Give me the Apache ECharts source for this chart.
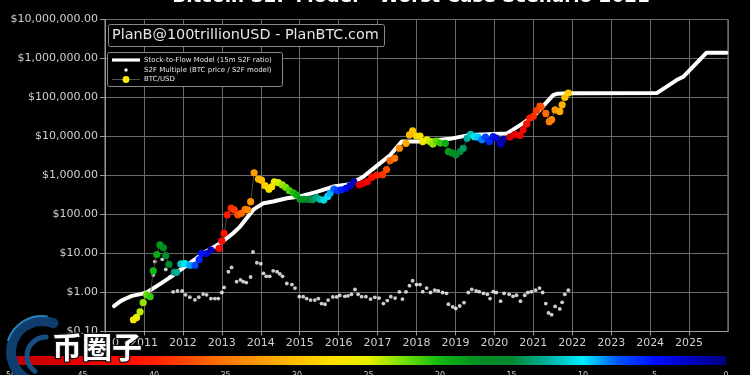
<!DOCTYPE html>
<html><head><meta charset="utf-8">
<script src="https://cdn.jsdelivr.net/npm/echarts@6/dist/echarts.min.js"></script>
<style>html,body{margin:0;padding:0;background:#000;}#c{width:750px;height:375px;}</style>
</head><body><div id="c"></div>
<script>
const titleText = 'Bitcoin S2F Model - Worst Case Scenario 2021';
const creditText = 'PlanB@100trillionUSD - PlanBTC.com';
const legendLabels = ['Stock-to-Flow Model (15m S2F ratio)', 'S2F Multiple (BTC price / S2F model)', 'BTC/USD'];
const watermarkText = '币圈子';

// S2F model line
const modelYears = [2010.23,2010.40,2010.51,2010.69,2010.94,2011.07,2011.37,2011.71,2012.05,2012.31,2012.57,2012.82,2013.04,2013.29,2013.47,2013.81,2014.07,2014.32,2014.67,2015.00,2015.44,2015.86,2016.29,2016.63,2017.06,2017.32,2017.62,2018.17,2018.86,2019.37,2020.32,2020.48,2020.74,2021.08,2021.51,2021.62,2021.94,2024.17,2024.68,2024.85,2025.45,2025.96];
const modelValues = [0.45,0.6,0.68,0.82,0.92,1.0,1.55,2.6,4.6,7.1,11,15,21,33,49,133,195,215,260,290,380,520,600,930,2040,3300,7400,7400,8700,11000,12000,15000,22000,39000,115000,125000,128000,130000,280000,340000,1410000,1410000];

// S2F multiple dots
const multipleYears = [2011.24,2011.28,2011.47,2011.56,2011.67,2011.75,2011.86,2011.98,2012.07,2012.18,2012.31,2012.41,2012.52,2012.61,2012.72,2012.82,2012.91,2013.00,2013.06,2013.17,2013.25,2013.38,2013.48,2013.55,2013.63,2013.74,2013.80,2013.90,2014.00,2014.07,2014.14,2014.23,2014.32,2014.42,2014.49,2014.56,2014.67,2014.80,2014.88,2014.99,2015.09,2015.18,2015.28,2015.39,2015.48,2015.56,2015.65,2015.73,2015.85,2015.95,2016.03,2016.16,2016.24,2016.33,2016.42,2016.50,2016.59,2016.70,2016.82,2016.93,2017.04,2017.15,2017.25,2017.34,2017.45,2017.56,2017.64,2017.73,2017.82,2017.90,2018.00,2018.09,2018.16,2018.26,2018.36,2018.47,2018.56,2018.67,2018.77,2018.82,2018.93,2019.01,2019.11,2019.22,2019.33,2019.42,2019.53,2019.61,2019.72,2019.82,2019.89,2019.97,2020.05,2020.16,2020.25,2020.38,2020.48,2020.57,2020.67,2020.78,2020.86,2020.95,2021.06,2021.16,2021.24,2021.32,2021.39,2021.47,2021.56,2021.68,2021.74,2021.81,2021.90];
const multipleValues = [2.8,6.2,7.1,3.9,2.5,1.04,1.1,1.1,0.87,0.76,0.65,0.76,0.91,0.87,0.7,0.7,0.7,1.0,1.35,3.4,4.4,1.9,2.1,1.9,1.8,2.5,11,5.8,5.5,3.1,2.6,2.6,3.6,3.4,3.0,2.6,1.7,1.6,1.3,0.78,0.78,0.7,0.64,0.64,0.7,0.52,0.5,0.64,0.77,0.77,0.84,0.8,0.82,0.9,1.2,0.9,0.78,0.78,0.68,0.75,0.72,0.52,0.62,0.78,0.72,1.04,0.68,1.04,1.5,2.0,1.6,1.6,1.05,1.3,1.0,1.15,1.1,1.0,0.95,0.5,0.43,0.39,0.45,0.55,1.0,1.2,1.1,1.05,0.95,0.9,0.7,1.05,1.0,0.6,0.95,0.9,0.8,0.85,0.6,0.85,1.0,1.05,1.15,1.3,1.0,0.52,0.3,0.27,0.44,0.38,0.56,0.9,1.15];

// BTC/USD price points with months-until-next-halving (colour value)
const btcYears = [2010.73,2010.81,2010.90,2010.98,2011.07,2011.16,2011.24,2011.33,2011.41,2011.50,2011.56,2011.64,2011.78,2011.84,2011.95,2012.05,2012.18,2012.31,2012.42,2012.48,2012.61,2012.72,2012.93,2013.00,2013.06,2013.14,2013.24,2013.32,2013.41,2013.50,2013.60,2013.67,2013.74,2013.83,2013.94,2014.02,2014.11,2014.21,2014.28,2014.35,2014.45,2014.55,2014.64,2014.73,2014.84,2014.92,2015.01,2015.11,2015.22,2015.33,2015.42,2015.52,2015.62,2015.72,2015.78,2015.88,2015.97,2016.07,2016.19,2016.29,2016.39,2016.53,2016.63,2016.74,2016.85,2016.98,2017.13,2017.23,2017.32,2017.44,2017.56,2017.73,2017.82,2017.90,2018.00,2018.09,2018.16,2018.27,2018.35,2018.42,2018.51,2018.61,2018.74,2018.82,2018.91,2019.01,2019.12,2019.20,2019.30,2019.39,2019.49,2019.58,2019.68,2019.77,2019.87,2019.97,2020.05,2020.16,2020.24,2020.40,2020.53,2020.66,2020.74,2020.83,2020.91,2021.00,2021.08,2021.17,2021.20,2021.32,2021.41,2021.47,2021.56,2021.68,2021.74,2021.81,2021.90];
const btcPrices = [0.20,0.23,0.32,0.55,0.87,0.78,3.6,9.4,16.6,14,8.8,5.3,3.3,3.3,5.4,5.5,5.0,5.0,7.0,10,10,12.3,13.5,21,33,98,145,131,98,107,135,130,213,1170,810,760,550,445,515,690,660,575,500,410,360,315,245,245,245,240,275,245,235,290,350,445,415,430,470,540,690,575,630,700,890,1020,1050,1420,2400,2750,5000,6700,11000,14000,10300,10300,7400,8200,7400,6400,7600,6800,6700,4100,3800,3400,4100,5000,9000,11400,9900,9600,8300,9600,7400,9900,9100,6400,8500,9600,11300,10700,14800,21000,29500,33000,46000,60000,57000,39000,24000,27000,48000,44000,65000,100000,130000];
const btcMonths = [26.2,25.2,24.1,23.2,22.1,21.0,20.0,19.0,18.0,16.9,16.2,15.2,13.6,12.8,11.5,10.3,8.8,7.2,5.9,5.2,3.6,2.3,43.2,42.4,41.6,40.6,39.5,38.5,37.4,36.1,34.9,34.1,33.2,32.2,30.8,29.9,28.8,27.6,26.8,25.9,24.7,23.5,22.7,21.6,20.3,19.3,18.2,17.0,15.7,14.4,13.3,12.1,10.9,9.7,9.0,7.8,6.7,5.5,4.1,2.9,1.7,46.0,44.8,43.4,42.1,40.6,38.8,37.6,36.5,35.0,33.6,31.6,30.5,29.5,28.3,27.2,26.4,25.1,24.1,23.3,22.2,21.0,19.4,18.5,17.4,16.2,14.9,13.9,12.7,11.6,10.4,9.4,8.2,7.1,5.9,4.7,3.7,2.4,1.4,46.8,45.2,43.7,42.7,41.6,40.7,39.6,38.6,37.6,37.2,35.8,34.7,34.0,32.9,31.4,30.7,29.9,28.8];

// colour scale (value 0 -> 50, step 2.5)
const cmapColors = ['#000080','#0000c0','#0010ff','#0050ff','#00eeff','#00b0a0','#008a30','#008f20','#10b810','#70e000','#e8f000','#ffe000','#ffc000','#ff9c00','#ff7800','#ff4c00','#ff2000','#ff0800','#e80000','#d00000','#c00000'];
const colorbarTicks = [50,45,40,35,30,25,20,15,10,5,0];

const chart = echarts.init(document.getElementById('c'));
const FONT = 'DejaVu Sans';
const grid = {left:105, right:22, top:19.5, bottom:43.5};
const cbLeft = 11, cbRight = 726;

const graphics = [];
graphics.push({type:'text', z:100, style:{text:titleText, x:411, y:-2.5, fill:'#ffffff', fontSize:18.4, fontWeight:'bold', fontFamily:FONT, align:'center', textAlign:'center', verticalAlign:'middle', textVerticalAlign:'middle'}});
graphics.push({type:'rect', z:100, shape:{x:108.5, y:24.5, width:276, height:22, r:2}, style:{fill:'#000', stroke:'#8a8a8a', lineWidth:1}});
graphics.push({type:'text', z:101, style:{text:creditText, x:112, y:35.5, fill:'#e6e6e6', fontSize:14.4, fontFamily:FONT, verticalAlign:'middle', textVerticalAlign:'middle'}});
graphics.push({type:'rect', z:100, shape:{x:107.5, y:52.5, width:175, height:34, r:2}, style:{fill:'#000', stroke:'#8a8a8a', lineWidth:1}});
graphics.push({type:'line', z:101, shape:{x1:112, y1:60, x2:140, y2:60}, style:{stroke:'#fff', lineWidth:3.2}});
graphics.push({type:'circle', z:101, shape:{cx:126, cy:70, r:1.7}, style:{fill:'#fff'}});
graphics.push({type:'line', z:101, shape:{x1:112, y1:79.5, x2:140, y2:79.5}, style:{stroke:'#666', lineWidth:0.8}});
graphics.push({type:'circle', z:102, shape:{cx:126, cy:79.5, r:3.4}, style:{fill:'#ffee00'}});
[60,70,79.5].forEach((yy,i)=>{
  graphics.push({type:'text', z:101, style:{text:legendLabels[i], x:144, y:yy, fill:'#e6e6e6', fontSize:7, fontFamily:FONT, verticalAlign:'middle', textVerticalAlign:'middle'}});
});
const stops = cmapColors.slice().reverse().map((c,i,a)=>({offset:i/(a.length-1), color:c}));
graphics.push({type:'rect', z:50, shape:{x:cbLeft, y:356, width:cbRight-cbLeft, height:9}, style:{fill:new echarts.graphic.LinearGradient(0,0,1,0,stops)}});
colorbarTicks.forEach(v=>{
  const xx = cbLeft + (50 - v)/50*(cbRight-cbLeft);
  graphics.push({type:'text', z:50, style:{text:String(v), x:xx, y:371.5, fill:'#cccccc', fontSize:8, fontFamily:FONT, align:'center', textAlign:'center', verticalAlign:'top', textVerticalAlign:'top'}});
});
graphics.push({type:'arc', z:200, shape:{cx:42, cy:352, r:31, startAngle:Math.PI*0.62, endAngle:Math.PI*1.62}, style:{stroke:'#0e3d6e', lineWidth:10, fill:null, lineCap:'round'}});
graphics.push({type:'arc', z:201, shape:{cx:42, cy:352, r:36, startAngle:Math.PI*1.1, endAngle:Math.PI*1.55}, style:{stroke:'#2b7fb8', lineWidth:2, fill:null}});
graphics.push({type:'arc', z:201, shape:{cx:46, cy:356, r:19, startAngle:Math.PI*0.7, endAngle:Math.PI*1.5}, style:{stroke:'#174f85', lineWidth:5, fill:null, lineCap:'round'}});
graphics.push({type:'text', z:210, style:{text:watermarkText, x:52, y:347, fill:'#ffffff', stroke:'#151515', lineWidth:2.5, fontSize:30, fontWeight:'bold', fontFamily:'Noto Sans CJK SC', verticalAlign:'middle', textVerticalAlign:'middle'}});

const fmtUSD = v => '$' + Number(v).toLocaleString('en-US', {minimumFractionDigits:2, maximumFractionDigits:2});

chart.setOption({
  backgroundColor:'#000',
  animation:false,
  grid:{left:grid.left, right:grid.right, top:grid.top, bottom:grid.bottom, show:true, borderColor:'#9a9a9a', borderWidth:1, backgroundColor:'#000'},
  xAxis:{type:'value', min:2010, max:2026, interval:1,
    axisLine:{show:true, onZero:false, lineStyle:{color:'#9a9a9a'}},
    axisTick:{show:true, length:4, lineStyle:{color:'#9a9a9a'}},
    axisLabel:{color:'#d0d0d0', fontSize:11, fontFamily:FONT, margin:6, showMaxLabel:false, formatter:v=>String(Math.round(v))},
    splitLine:{show:true, lineStyle:{color:'#6a6a6a', width:1}}},
  yAxis:{type:'log', logBase:10, min:0.1, max:1e7, splitNumber:8,
    axisLine:{show:true, lineStyle:{color:'#9a9a9a'}},
    axisTick:{show:true, length:5, lineStyle:{color:'#9a9a9a'}},
    axisLabel:{color:'#d0d0d0', fontSize:11, fontFamily:FONT, margin:7, formatter:fmtUSD},
    splitLine:{show:true, lineStyle:{color:'#6a6a6a', width:1}},
    minorTick:{show:false}},
  visualMap:{type:'continuous', show:false, min:0, max:50, dimension:2, seriesIndex:3, inRange:{color:cmapColors}},
  graphic:{elements:graphics},
  series:[
    {type:'line', name:legendLabels[0], data:modelYears.map((x,i)=>[x, modelValues[i]]), showSymbol:false, symbol:'none', z:2,
      lineStyle:{color:'#ffffff', width:4, cap:'round', join:'round'}},
    {type:'scatter', name:legendLabels[1], data:multipleYears.map((x,i)=>[x, multipleValues[i]]), symbolSize:3.8, z:3,
      itemStyle:{color:'#ffffff'}},
    {type:'line', name:'btcline', data:btcYears.map((x,i)=>[x, btcPrices[i]]), showSymbol:false, symbol:'none', z:4,
      lineStyle:{color:'#555555', width:0.8}},
    {type:'scatter', name:legendLabels[2], data:btcYears.map((x,i)=>[x, btcPrices[i], btcMonths[i]]), symbolSize:7.2, z:5,
      itemStyle:{opacity:1}}
  ]
});
</script></body></html>
